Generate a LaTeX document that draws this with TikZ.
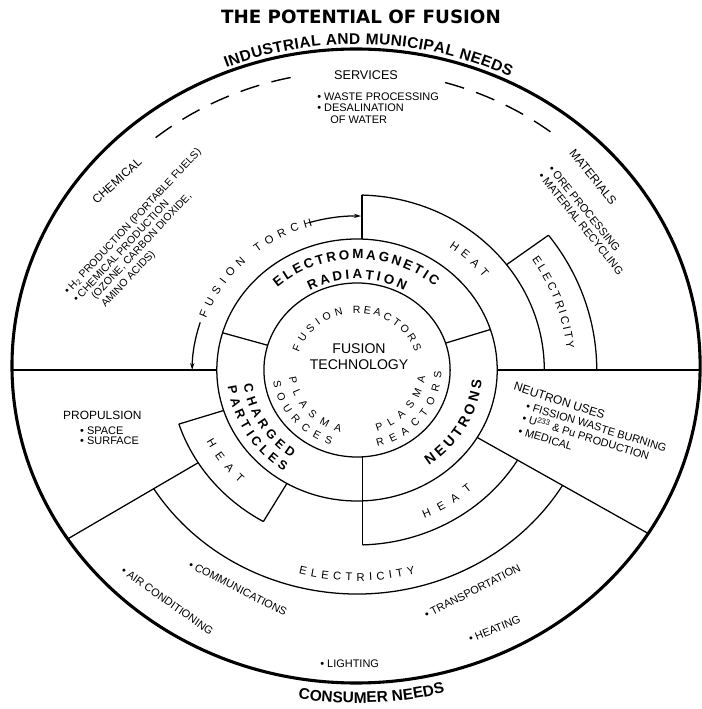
\documentclass[tikz,border=0pt]{standalone}
\usepackage{fontspec}
\setmainfont{Liberation Sans}
\newfontfamily\titlefont{DejaVu Sans}
\usetikzlibrary{decorations.text,arrows.meta}

\begin{document}
\begin{tikzpicture}[x=0.02675cm, y=0.025cm,
  ring/.style={line width=0.9pt},
  rim/.style={line width=2.2pt},
  dashes/.style={line width=1pt, dash pattern=on 14pt off 9pt},
  note/.style={inner sep=0pt, anchor=west, text height=5.6pt, text depth=1pt, font=\fontsize{7.8}{8}\selectfont},
  head/.style={inner sep=0pt, font=\fontsize{8.5}{10}\selectfont},
  curved/.style={decorate, decoration={text along path, text align={fit to path}, text={#1}}},
  >={Stealth[length=5pt, width=3pt]}]
  \useasboundingbox (-333.6,-339) rectangle (321.5,370);
  % Title and rim
  \node (title) at (3.7,353) {\titlefont\bfseries\fontsize{13}{13}\selectfont THE POTENTIAL OF FUSION};
  \draw[rim] (-0.9,4) ellipse [x radius=321.5, y radius=317];
  \path[curved={|\bfseries\fontsize{11}{11}\selectfont|INDUSTRIAL AND MUNICIPAL NEEDS}] (112:326) arc[start angle=112, end angle=64, radius=326];
  \path[curved={|\bfseries\fontsize{11}{11}\selectfont|CONSUMER NEEDS}] (-99.5:333) arc[start angle=-99.5, end angle=-76.5, radius=333];
  % Rings
  \draw[ring] (0,0) circle (87);
  \draw[ring] (0,0) circle (131);
  \draw[ring] (88.5:175) arc[start angle=88.5, end angle=0, radius=175];
  \draw[ring] (198:175) arc[start angle=198, end angle=240, radius=175];
  \draw[ring] (-88.3:175) arc[start angle=-88.3, end angle=-31, radius=175];
  \draw[ring] (37:224) arc[start angle=37, end angle=0, radius=224];
  \draw[ring] (212:224) arc[start angle=212, end angle=329, radius=224];
  \draw[dashes] (129:299) arc[start angle=129, end angle=100, radius=299];
  \draw[dashes] (74:299) arc[start angle=74, end angle=51, radius=299];
  % Spokes
  \draw[ring] (163.5:87) -- (163.5:131);
  \draw[ring] (18:87) -- (18:131);
  \draw[ring] (5.2,-86.8) -- (5.2,-174.9);
  \draw[ring] (4.7,130.9) -- (4.7,174.9);
  \draw[ring] (0:131) -- (320.6,0);
  \draw[ring] (180:131) -- (-322.4,0);
  \draw[ring] (37:175) -- (37:224);
  \draw[ring] (198:131) -- (198:175);
  \draw[ring] (240:131) -- (240:175);
  \draw[ring] (212:175) -- (212:318.8);
  \draw[ring] (-31:131) -- (-31:317.4);
  % Fusion torch
  \coordinate (torchfoot) at (180:154);
  \coordinate (torchtip) at (88.6:154);
  \draw[ring,<-] (torchfoot) arc[start angle=180, end angle=162, radius=154];
  \draw[ring,<-] (torchtip) arc[start angle=88.6, end angle=107, radius=154];
  \path[curved={|\fontsize{8}{8}\selectfont|FUSION TORCH}] (160:150) arc[start angle=160, end angle=106, radius=150];
  % Core
  \node (core) at (1.9,13) [font=\fontsize{10}{11.5}\selectfont, align=center] {FUSION\\TECHNOLOGY};
  \path[curved={|\fontsize{7.5}{8}\selectfont|FUSION}] (162:57) arc[start angle=162, end angle=103, radius=57];
  \path[curved={|\fontsize{7.5}{8}\selectfont|REACTORS}] (94:57) arc[start angle=94, end angle=18, radius=57];
  \path[curved={|\fontsize{7.5}{8}\selectfont|PLASMA}] (187:64) arc[start angle=187, end angle=256, radius=64];
  \path[curved={|\fontsize{7.5}{8}\selectfont|SOURCES}] (188:79) arc[start angle=188, end angle=252, radius=79];
  \path[curved={|\fontsize{7.5}{8}\selectfont|PLASMA}] (-73:64) arc[start angle=-73, end angle=-6, radius=64];
  \path[curved={|\fontsize{7.5}{8}\selectfont|REACTORS}] (-76:79) arc[start angle=-76, end angle=-1, radius=79];
  % Products ring
  \path[curved={|\bfseries\fontsize{9.5}{10}\selectfont|ELECTROMAGNETIC}] (132:111) arc[start angle=132, end angle=49, radius=111];
  \path[curved={|\bfseries\fontsize{9.5}{10}\selectfont|RADIATION}] (119:91) arc[start angle=119, end angle=61, radius=91];
  \path[curved={|\bfseries\fontsize{9}{10}\selectfont|CHARGED}] (188:107) arc[start angle=188, end angle=235, radius=107];
  \path[curved={|\bfseries\fontsize{9}{10}\selectfont|PARTICLES}] (188:122) arc[start angle=188, end angle=236, radius=122];
  \path[curved={|\bfseries\fontsize{10}{10}\selectfont|NEUTRONS}] (-55:117) arc[start angle=-55, end angle=-5, radius=117];
  % Conversion boxes
  \path[curved={|\fontsize{8}{8}\selectfont|HEAT}] (55:150) arc[start angle=55, end angle=38, radius=150];
  \path[curved={|\fontsize{8}{8}\selectfont|ELECTRICITY}] (34:197) arc[start angle=34, end angle=6, radius=197];
  \path[curved={|\fontsize{8}{8}\selectfont|HEAT}] (207:158) arc[start angle=207, end angle=226, radius=158];
  \path[curved={|\fontsize{8}{8}\selectfont|HEAT}] (-67:161) arc[start angle=-67, end angle=-48, radius=161];
  \path[curved={|\fontsize{8}{8}\selectfont|ELECTRICITY}] (-105:211) arc[start angle=-105, end angle=-75, radius=211];
  % Needs
  \node[head, font=\fontsize{9}{10}\selectfont] (services) at (8.4,295) {SERVICES};
  \node[note] (waste) at (-37.4,273) {\textbullet\ WASTE PROCESSING};
  \node[note] (desal) at (-37.4,262) {\textbullet\ DESALINATION};
  \node[note] (water) at (-25.2,250) {OF WATER};
  \node[head, rotate=42] (chemical) at (-224.3,189) {CHEMICAL};
  \node[note, rotate=47, font=\fontsize{7.5}{8}\selectfont] (chemA) at (-272,77) {\textbullet\ H\textsubscript{2} PRODUCTION (PORTABLE FUELS)};
  \node[note, rotate=47, font=\fontsize{7.5}{8}\selectfont] (chemB) at (-263.6,69) {\textbullet\ CHEMICAL PRODUCTION};
  \node[note, rotate=47, font=\fontsize{7.5}{8}\selectfont] (chemC) at (-246.7,72) {(OZONE, CARBON DIOXIDE,};
  \node[note, rotate=47, font=\fontsize{7.5}{8}\selectfont] (chemD) at (-237.4,64) {AMINO ACIDS)};
  \node[head, rotate=-51] (materials) at (220.6,193) {MATERIALS};
  \node[note, rotate=-51] (ore) at (180.4,203) {\textbullet\ ORE PROCESSING};
  \node[note, rotate=-51] (recycle) at (171,196) {\textbullet\ MATERIAL RECYCLING};
  \node[head, anchor=west, rotate=-18] (neutronuses) at (146.7,-16) {NEUTRON USES};
  \node[note, rotate=-17] (fission) at (158,-36) {\textbullet\ FISSION WASTE BURNING};
  \node[note, rotate=-17] (breeding) at (154.4,-48.4) {\textbullet\ U\textsuperscript{233} \& Pu PRODUCTION};
  \node[note, rotate=-17] (medical) at (150.8,-60.9) {\textbullet\ MEDICAL};
  \node[head, anchor=west] (propulsion) at (-274.8,-45) {PROPULSION};
  \node[note] (space) at (-258.9,-61) {\textbullet\ SPACE};
  \node[note] (surface) at (-258.9,-71) {\textbullet\ SURFACE};
  \node[note, rotate=-35] (aircon) at (-219.6,-200) {\textbullet\ AIR CONDITIONING};
  \node[note, rotate=-27] (comms) at (-157,-194) {\textbullet\ COMMUNICATIONS};
  \node[note, rotate=27] (transport) at (63.6,-246) {\textbullet\ TRANSPORTATION};
  \node[note, rotate=22] (heating) at (104.7,-270) {\textbullet\ HEATING};
  \node[note] (lighting) at (-34.6,-294) {\textbullet\ LIGHTING};
\end{tikzpicture}
\end{document}
